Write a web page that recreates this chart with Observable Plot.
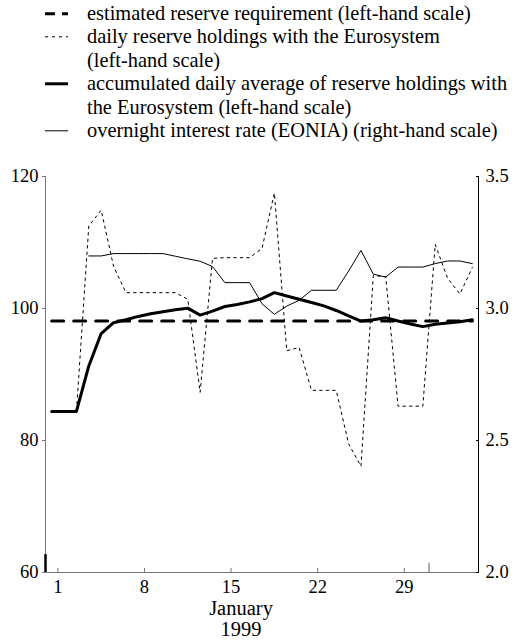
<!DOCTYPE html>
<html>
<head>
<meta charset="utf-8">
<script src="https://cdn.jsdelivr.net/npm/d3@7"></script>
<script src="https://cdn.jsdelivr.net/npm/@observablehq/plot@0.6"></script>
<style>
  html, body { margin: 0; padding: 0; background: #fff; }
  body { width: 516px; font-family: "Liberation Serif", "DejaVu Serif", serif; color: #000; }
  #legend { position: relative; height: 150px; box-sizing: border-box; padding-top: 1.5px; font-size: 20.4px; line-height: 23.6px; white-space: nowrap; }
  .item { position: relative; padding-left: 87px; }
  .item svg { position: absolute; left: 45px; top: 0; }
  #chart svg { display: block; }
</style>
</head>
<body>
<div id="legend"></div>
<div id="chart"></div>
<script>
// ---- data ----
const days = [1,2,3,4,5,6,7,8,9,10,11,12,13,14,15,16,17,18,19,20,21,22,23,24,25,26,27,28,29,30,31,32,33,34,35];
const dailyHoldings = [84.4,84.4,84.4,112.5,114.9,106.4,102.4,102.4,102.4,102.4,102.4,101.4,87.3,107.6,107.7,107.7,107.7,109.1,117.5,93.6,94.1,87.6,87.6,87.6,79.5,76.1,105.0,104.8,85.2,85.2,85.2,109.7,104.6,102.2,106.2];
const accumulatedAverage = [84.4,84.4,84.4,91.3,96.2,97.85,98.3,98.8,99.2,99.5,99.8,100.05,99.0,99.6,100.3,100.6,101.0,101.5,102.4,101.9,101.4,100.9,100.4,99.7,98.9,98.1,98.3,98.6,98.1,97.65,97.25,97.6,97.8,98.0,98.3];
const eoniaDays = [4,5,6,7,8,9,10,11,12,13,14,15,16,17,18,19,20,21,22,23,24,25,26,27,28,29,30,31,32,33,34,35];
const eonia = [3.199,3.199,3.208,3.208,3.208,3.208,3.208,3.198,3.188,3.179,3.159,3.098,3.098,3.098,3.018,2.978,3.009,3.031,3.069,3.069,3.069,3.142,3.220,3.130,3.119,3.157,3.157,3.157,3.170,3.180,3.180,3.170];
const reserveRequirement = 98.1;
const xTickValues = [1, 8, 15, 22, 29];
const leftTicks = [60, 80, 100, 120];
const rightTicks = [2.0, 2.5, 3.0, 3.5];
const monthStart = [0];
const monthEnd = [31];
const xTitle = "January\n1999";
const legendItems = [
  {label: "estimated reserve requirement (left-hand scale)", width: 3, dash: "10 7"},
  {label: "daily reserve holdings with the Eurosystem<br>(left-hand scale)", width: 1, dash: "3 4"},
  {label: "accumulated daily average of reserve holdings with<br>the Eurosystem (left-hand scale)", width: 3, dash: null},
  {label: "overnight interest rate (EONIA) (right-hand scale)", width: 1, dash: null}
];

// ---- legend ----
const legend = document.getElementById("legend");
for (const it of legendItems) {
  const div = document.createElement("div");
  div.className = "item";
  div.innerHTML = `<svg width="23" height="23.6"><line x1="0" x2="23" y1="11.8" y2="11.8" stroke="#000" stroke-width="${it.width}" ${it.dash ? `stroke-dasharray="${it.dash}"` : ""}/></svg>${it.label}`;
  legend.appendChild(div);
}

// ---- chart ----
const yLo = leftTicks[0], yHi = leftTicks[leftTicks.length - 1];
const rLo = rightTicks[0], rHi = rightTicks[rightTicks.length - 1];
const rateToLeft = r => yLo + (r - rLo) * (yHi - yLo) / (rHi - rLo);
const leftToRate = v => rLo + (v - yLo) * (rHi - rLo) / (yHi - yLo);
const pos = d => d - 0.5;

const chart = Plot.plot({
  width: 516,
  height: 490,
  marginTop: 26,
  marginLeft: 45,
  marginRight: 38,
  marginBottom: 68,
  style: {fontFamily: "'Liberation Serif', 'DejaVu Serif', serif", fontSize: "18.5px", color: "#000", background: "#fff", overflow: "visible"},
  x: {domain: [0, 35]},
  y: {domain: [yLo, yHi]},
  marks: [
    Plot.ruleX([0], {stroke: "#777"}),
    Plot.ruleY([yLo], {stroke: "#777"}),
    Plot.ruleX([35], {stroke: "#000"}),
    Plot.axisY({anchor: "left", ticks: leftTicks, tickSize: 3, tickPadding: 4, label: null, stroke: "#777", fill: "#000"}),
    Plot.axisY({anchor: "right", ticks: rightTicks.map(rateToLeft), tickFormat: v => leftToRate(v).toFixed(1), tickSize: -3, tickPadding: 10, label: null, stroke: "#000", fill: "#000"}),
    Plot.axisX({ticks: xTickValues, tickFormat: d => String(d), tickSize: -4, tickPadding: 11, label: null, stroke: "#777", fill: "#000"}),
    Plot.ruleX(monthStart, {y1: yLo, y2: yLo + 2.7, stroke: "#000", strokeWidth: 2.5}),
    Plot.ruleX(monthEnd, {y1: yLo, y2: yLo + 1.4, stroke: "#777", strokeWidth: 1.2}),
    Plot.line(days, {x: pos, y: (d, i) => dailyHoldings[i], stroke: "#000", strokeWidth: 1, strokeDasharray: "2.5 4"}),
    Plot.line(eoniaDays, {x: pos, y: (d, i) => rateToLeft(eonia[i]), stroke: "#000", strokeWidth: 1}),
    Plot.line([days[0], days[days.length - 1]], {x: pos, y: () => reserveRequirement, stroke: "#000", strokeWidth: 3, strokeDasharray: "12 10"}),
    Plot.line(days, {x: pos, y: (d, i) => accumulatedAverage[i], stroke: "#000", strokeWidth: 3}),
    Plot.text([xTitle], {frameAnchor: "bottom", dx: -21, dy: 27, lineAnchor: "top", lineHeight: 1.05, fontSize: 20.5, fill: "#000"})
  ]
});
document.getElementById("chart").appendChild(chart);
</script>
</body>
</html>
